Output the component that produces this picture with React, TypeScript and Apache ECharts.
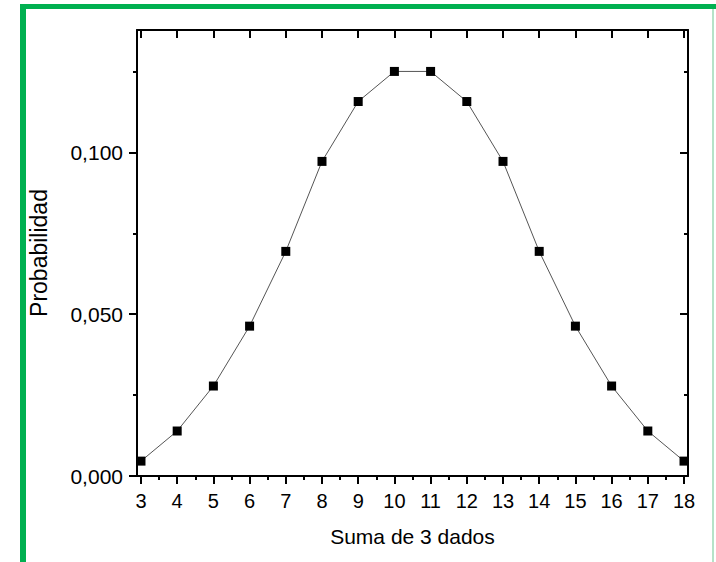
import React, { useEffect, useRef } from "react";
import * as echarts from "echarts";

const sums = [3, 4, 5, 6, 7, 8, 9, 10, 11, 12, 13, 14, 15, 16, 17, 18];
const probabilities = [
  0.0046, 0.0139, 0.0278, 0.0463, 0.0694, 0.0972, 0.1157, 0.125, 0.125,
  0.1157, 0.0972, 0.0694, 0.0463, 0.0278, 0.0139, 0.0046,
];
const xMajorTicks = [3, 4, 5, 6, 7, 8, 9, 10, 11, 12, 13, 14, 15, 16, 17, 18];
const xMinorTicks = [3.5, 4.5, 5.5, 6.5, 7.5, 8.5, 9.5, 10.5, 11.5, 12.5, 13.5, 14.5, 15.5, 16.5, 17.5];
const yMajorTicks = [0, 0.05, 0.1];
const yMinorTicks = [0.025, 0.075, 0.125];

const X_MIN = 2.89;
const X_MAX = 18.11;
const Y_MIN = 0;
const Y_MAX = 0.1378;

const FONT = "'Liberation Sans', Arial, sans-serif";
const GREEN = "#00b050";

export default function App() {
  const ref = useRef<HTMLDivElement>(null);
  useEffect(() => {
    if (!ref.current) return;
    const chart = echarts.init(ref.current, undefined, { renderer: "svg" });
    const lineStyle = { color: "#000", width: 2 };
    const baseX = (extra: any) => ({
      type: "value",
      min: X_MIN,
      max: X_MAX,
      splitLine: { show: false },
      ...extra,
    });
    const baseY = (extra: any) => ({
      type: "value",
      min: Y_MIN,
      max: Y_MAX,
      splitLine: { show: false },
      ...extra,
    });
    chart.setOption({
      animation: false,
      backgroundColor: "#fff",
      grid: { left: 137, right: 28, top: 30, bottom: 86 },
      graphic: [
        { type: "rect", shape: { x: 20, y: 4, width: 6, height: 560 }, style: { fill: GREEN } },
        { type: "rect", shape: { x: 20, y: 4, width: 700, height: 5 }, style: { fill: GREEN } },
        { type: "rect", shape: { x: 712, y: 9, width: 2, height: 560 }, style: { fill: "#b5e3c8" } },
      ],
      xAxis: [
        baseX({
          position: "bottom",
          name: "Suma de 3 dados",
          nameLocation: "middle",
          nameGap: 50,
          nameTextStyle: { fontFamily: FONT, fontSize: 21, color: "#000" },
          axisLine: { show: true, onZero: false, lineStyle },
          axisTick: { show: true, inside: false, length: 8, lineStyle, customValues: xMajorTicks },
          axisLabel: {
            show: true,
            customValues: xMajorTicks,
            fontFamily: FONT,
            fontSize: 20,
            color: "#000",
            margin: 15,
          },
        }),
        baseX({
          position: "bottom",
          axisLine: { show: false },
          axisTick: { show: true, inside: false, length: 4, lineStyle, customValues: xMinorTicks },
          axisLabel: { show: false },
        }),
        baseX({
          position: "top",
          axisLine: { show: true, onZero: false, lineStyle },
          axisTick: { show: true, inside: true, length: 8, lineStyle, customValues: xMajorTicks },
          axisLabel: { show: false },
        }),
        baseX({
          position: "top",
          axisLine: { show: false },
          axisTick: { show: true, inside: true, length: 4, lineStyle, customValues: xMinorTicks },
          axisLabel: { show: false },
        }),
      ],
      yAxis: [
        baseY({
          position: "left",
          name: "Probabilidad",
          nameLocation: "middle",
          nameGap: 87,
          nameTextStyle: { fontFamily: FONT, fontSize: 23, color: "#000" },
          axisLine: { show: true, onZero: false, lineStyle },
          axisTick: { show: true, inside: false, length: 8, lineStyle, customValues: yMajorTicks },
          axisLabel: {
            show: true,
            customValues: yMajorTicks,
            fontFamily: FONT,
            fontSize: 21,
            color: "#000",
            margin: 14,
            formatter: (v: number) => v.toFixed(3).replace(".", ","),
          },
        }),
        baseY({
          position: "left",
          axisLine: { show: false },
          axisTick: { show: true, inside: false, length: 4, lineStyle, customValues: yMinorTicks },
          axisLabel: { show: false },
        }),
        baseY({
          position: "right",
          axisLine: { show: true, onZero: false, lineStyle },
          axisTick: { show: true, inside: true, length: 8, lineStyle, customValues: yMajorTicks },
          axisLabel: { show: false },
        }),
        baseY({
          position: "right",
          axisLine: { show: false },
          axisTick: { show: true, inside: true, length: 4, lineStyle, customValues: yMinorTicks },
          axisLabel: { show: false },
        }),
      ],
      series: [
        {
          type: "line",
          xAxisIndex: 0,
          yAxisIndex: 0,
          data: sums.map((s, i) => [s, probabilities[i]]),
          symbol: "rect",
          symbolSize: 9,
          itemStyle: { color: "#000" },
          lineStyle: { color: "#555", width: 1 },
          emphasis: { disabled: true },
        },
      ],
    });
    return () => chart.dispose();
  }, []);
  return (
    <div
      ref={ref}
      style={{ position: "fixed", left: 0, top: 0, width: 716, height: 562, background: "#fff" }}
    />
  );
}
